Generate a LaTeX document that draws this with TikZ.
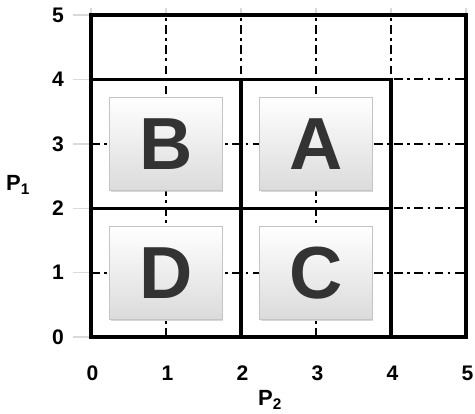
\documentclass[tikz,border=0pt]{standalone}
\usepackage{fontspec}
\setmainfont{Liberation Sans}
\usepackage{tikz}
\usetikzlibrary{shadows}

\definecolor{letter}{HTML}{333333}
\definecolor{boxline}{HTML}{C4C4C4}
\definecolor{tickgray}{HTML}{DADADA}

\begin{document}
\begin{tikzpicture}[
  x=1.5cm, y=1.288cm,
  every node/.style={font=\bfseries},
  frame/.style={line width=1.8pt, line cap=rect},
  guide/.style={line width=1.1pt, dash pattern=on 5pt off 2.5pt on 1.5pt off 2.5pt},
  tick/.style={tickgray, line width=0.8pt},
  cell/.style={rectangle, draw=boxline, top color=white, bottom color=gray!28,
               minimum width=2.25cm, minimum height=1.85cm,
               font=\fontsize{42}{42}\selectfont\bfseries, text=letter,
               drop shadow={shadow xshift=0.6pt, shadow yshift=-1.3pt, fill=gray!60}},
  num/.style={font=\fontsize{12}{14}\selectfont\bfseries},
  axis/.style={font=\fontsize{12.5}{15}\selectfont\bfseries},
]
\useasboundingbox (-1.213,-1.18) rectangle (5.12,5.233);

% light tick marks outside the frame
\foreach \v in {0,...,5} {
  \draw[tick] (-0.24,\v) -- (0,\v);
  \draw[tick] (\v,5) -- (\v,5.11);
}

% dash-dot guides
\foreach \v in {1,...,4} {
  \draw[guide] (\v,0) -- (\v,5);
  \draw[guide] (0,\v) -- (5,\v);
}

% cells
\node[cell] (B) at (1,3) {B};
\node[cell] (A) at (3,3) {A};
\node[cell] (D) at (1,1) {D};
\node[cell] (C) at (3,1) {C};

% solid partition
\draw[frame] (0,0) rectangle (5,5);
\draw[frame] (0,0) rectangle (4,4);
\draw[frame] (2,0) -- (2,4);
\draw[frame] (0,2) -- (4,2);

% tick labels
\foreach \v in {0,...,5} {
  \node[num] (y\v) at (-0.44,\v) {\v};
  \node[num] (x\v) at (\v+0.02,-0.56) {\v};
}

% axis labels
\node[axis] (p1) at (-0.97,2.36) {P\textsubscript{1}};
\node[axis] (p2) at (2.39,-0.98) {P\textsubscript{2}};
\end{tikzpicture}
\end{document}
